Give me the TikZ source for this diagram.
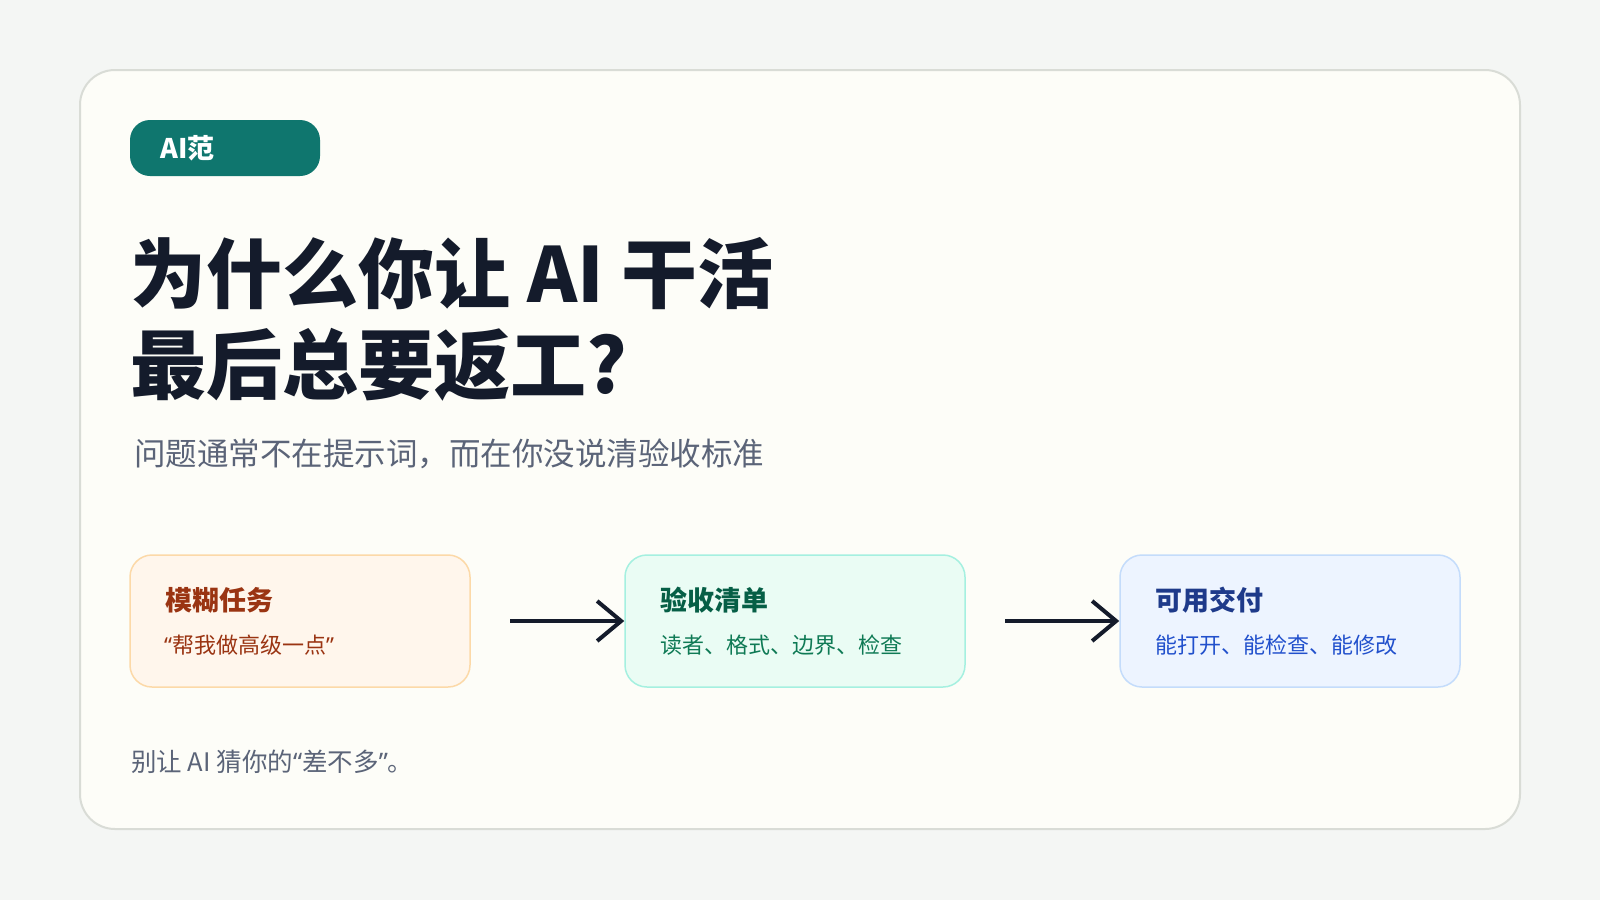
\documentclass[tikz,border=0pt]{standalone}
\usepackage{fontspec}
\setmainfont{Noto Sans CJK SC}
\newfontfamily\quotefont{Noto Sans}
\usepackage{xcolor}
\usetikzlibrary{positioning}
\usetikzlibrary{arrows.meta}

\newcommand{\qlmark}{{\quotefont “}}
\newcommand{\qrmark}{{\quotefont ”}}

\definecolor{pagebg}{HTML}{F4F6F4}
\definecolor{cardbg}{HTML}{FDFDF8}
\definecolor{cardline}{HTML}{D9DCD6}
\definecolor{badgegreen}{HTML}{0F766E}
\definecolor{inkdark}{HTML}{141B2B}
\definecolor{inkgray}{HTML}{5B6478}
\definecolor{orangebg}{HTML}{FFF6EC}
\definecolor{orangeline}{HTML}{FCD9A8}
\definecolor{orangeink}{HTML}{9A3412}
\definecolor{greenbg}{HTML}{EAFCF4}
\definecolor{greenline}{HTML}{A5F0E0}
\definecolor{greenhead}{HTML}{065F46}
\definecolor{greenink}{HTML}{0F7A55}
\definecolor{bluebg}{HTML}{EDF4FF}
\definecolor{blueline}{HTML}{C4DCFB}
\definecolor{bluehead}{HTML}{1E3A8A}
\definecolor{blueink}{HTML}{2150CC}

\tikzset{
  stagebox/.style={draw, line width=1.5pt, rounded corners=22pt, minimum width=340pt, minimum height=132pt, inner sep=0pt},
  stagehead/.style={anchor=west, inner sep=0pt, font=\fontsize{27}{32}\selectfont\bfseries},
  stagetext/.style={anchor=west, inner sep=0pt, font=\fontsize{22}{26}\selectfont},
  flowarrow/.style={draw=inkdark, line width=4pt, -{Straight Barb[length=24pt, width=40pt]}}
}

\begin{document}
\begin{tikzpicture}[x=1pt, y=-1pt]

\useasboundingbox (0,0) rectangle (1600,900);
\fill[pagebg] (0,0) rectangle (1600,900);

% card
\draw[cardline, fill=cardbg, line width=2pt, rounded corners=35pt] (80,70) rectangle (1520,829);

% badge
\fill[badgegreen, rounded corners=20pt] (130,120) rectangle (320,176);
\node[anchor=west, inner sep=0pt, text=white, font=\fontsize{27}{32}\selectfont\bfseries] (badge) at (160,148) {AI范};

% heading
\node[anchor=west, inner sep=0pt, text=inkdark, font=\fontsize{76}{90}\selectfont\bfseries] (title) at (130,274) {为什么你让 AI 干活};
\node[anchor=west, inner sep=0pt, text=inkdark, font=\fontsize{76}{90}\selectfont\bfseries] (titlenext) at (130,365) {最后总要返工?};
\node[anchor=west, inner sep=0pt, text=inkgray, font=\fontsize{31.5}{36}\selectfont] (subtitle) at (134,454) {问题通常不在提示词，而在你没说清验收标准};

% stages
\node[stagebox, draw=orangeline, fill=orangebg] (task) at (300,621) {};
\node[stagebox, draw=greenline, fill=greenbg] (check) at (795,621) {};
\node[stagebox, draw=blueline, fill=bluebg] (deliver) at (1290,621) {};

\node[stagehead, text=orangeink] (taskhead) at (165,600) {模糊任务};
\node[stagetext, text=orangeink] (tasktext) at (164,645) {\qlmark 帮我做高级一点\qrmark};

\node[stagehead, text=greenhead] (checkhead) at (660,600) {验收清单};
\node[stagetext, text=greenink] (checktext) at (660,645) {读者、格式、边界、检查};

\node[stagehead, text=bluehead] (deliverhead) at (1155,600) {可用交付};
\node[stagetext, text=blueink] (delivertext) at (1155,645) {能打开、能检查、能修改};

% arrows
\coordinate (from1) at (510,621);
\coordinate (from2) at (1005,621);
\draw[flowarrow] (from1) -- (check.west);
\draw[flowarrow] (from2) -- (deliver.west);

% footer
\node[anchor=west, inner sep=0pt, text=inkgray, font=\fontsize{25.5}{30}\selectfont] (footer) at (131,762) {别让 AI 猜你的\qlmark 差不多\qrmark 。};

\end{tikzpicture}
\end{document}
